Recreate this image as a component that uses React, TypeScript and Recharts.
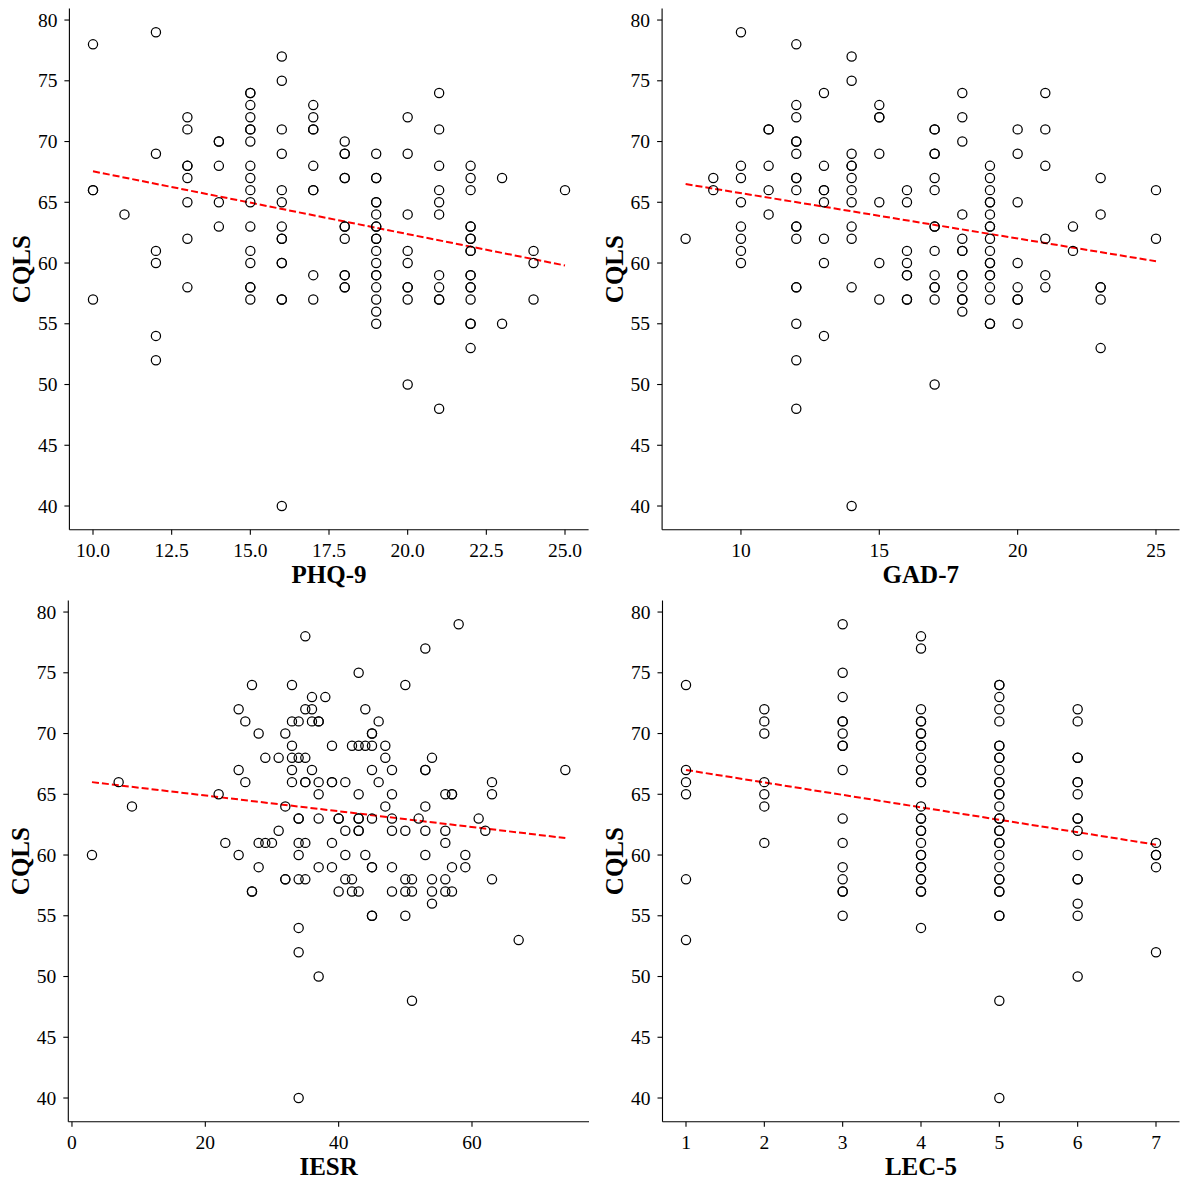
import { ScatterChart, Scatter, XAxis, YAxis, ReferenceLine } from 'recharts';

// CQLS scores against each scale, grouped by x value where the scale is integer
const phq9Columns: [number, number[]][] = [
    [10, [78, 66, 66, 57]],
    [11, [64]],
    [12, [79, 69, 61, 60, 54, 52]],
    [13, [72, 71, 68, 68, 67, 65, 62, 58]],
    [14, [70, 70, 68, 65, 63]],
    [15, [74, 74, 73, 72, 71, 71, 70, 68, 67, 66, 65, 63, 61, 60, 58, 58, 57]],
    [16, [77, 75, 71, 69, 66, 65, 63, 62, 62, 60, 60, 57, 57, 40]],
    [17, [73, 72, 71, 71, 68, 66, 66, 59, 57]],
    [18, [70, 69, 69, 67, 67, 63, 63, 62, 59, 59, 58, 58]],
    [19, [69, 67, 67, 65, 65, 64, 63, 63, 62, 62, 61, 60, 59, 59, 58, 57, 56, 55]],
    [20, [72, 69, 64, 61, 60, 58, 58, 57, 50]],
    [21, [74, 71, 68, 66, 65, 64, 59, 58, 57, 57, 48]],
    [22, [68, 67, 66, 63, 63, 62, 62, 61, 61, 59, 59, 58, 58, 57, 55, 55, 53]],
    [23, [67, 55]],
    [24, [61, 60, 57]],
    [25, [66]],
];

const gad7Columns: [number, number[]][] = [
    [8, [62]],
    [9, [67, 66]],
    [10, [79, 68, 67, 65, 63, 62, 61, 60]],
    [11, [71, 71, 68, 66, 64]],
    [12, [78, 73, 72, 70, 70, 69, 67, 67, 66, 63, 63, 62, 58, 58, 55, 52, 48]],
    [13, [74, 68, 66, 66, 65, 62, 60, 54]],
    [14, [77, 75, 69, 68, 68, 67, 66, 65, 63, 62, 58, 40]],
    [15, [73, 72, 72, 69, 65, 60, 57]],
    [16, [66, 65, 61, 60, 59, 59, 57, 57]],
    [17, [71, 71, 69, 69, 67, 66, 63, 63, 61, 59, 58, 58, 57, 50]],
    [18, [74, 72, 70, 64, 62, 61, 61, 59, 59, 58, 57, 57, 56]],
    [19, [68, 67, 66, 65, 65, 64, 63, 63, 62, 61, 60, 60, 59, 59, 58, 57, 55, 55]],
    [20, [71, 69, 65, 60, 58, 57, 57, 55]],
    [21, [74, 71, 68, 62, 59, 58]],
    [22, [63, 61]],
    [23, [67, 64, 58, 58, 57, 53]],
    [25, [66, 62]],
];

const iesrPairs: [number, number][] = [
    [3, 60], [7, 66], [9, 64], [22, 65], [23, 61], [25, 72], [25, 67], [25, 60], [26, 71], [26, 66],
    [27, 74], [27, 57], [27, 57], [28, 70], [28, 61], [28, 59],
    [35, 78], [53, 77], [43, 75], [33, 74], [50, 74], [36, 73], [38, 73], [35, 72], [36, 72], [44, 72],
    [33, 71], [34, 71], [36, 71], [37, 71], [37, 71], [46, 71], [32, 70], [45, 70], [45, 70],
    [33, 69], [39, 69], [42, 69], [43, 69], [44, 69], [45, 69], [47, 69],
    [29, 68], [31, 68], [33, 68], [34, 68], [35, 68], [47, 68], [54, 68],
    [33, 67], [36, 67], [45, 67], [48, 67], [53, 67], [53, 67],
    [33, 66], [35, 66], [35, 66], [37, 66], [39, 66], [39, 66], [41, 66], [46, 66],
    [37, 65], [43, 65], [48, 65], [32, 64], [47, 64], [53, 64],
    [34, 63], [34, 63], [37, 63], [40, 63], [40, 63], [43, 63], [43, 63], [45, 63], [48, 63], [52, 63],
    [31, 62], [41, 62], [43, 62], [43, 62], [48, 62], [50, 62], [53, 62],
    [29, 61], [30, 61], [34, 61], [35, 61], [39, 61],
    [34, 60], [41, 60], [44, 60], [53, 60],
    [37, 59], [39, 59], [45, 59], [45, 59], [48, 59],
    [32, 58], [32, 58], [34, 58], [35, 58], [41, 58], [42, 58], [50, 58], [51, 58], [54, 58],
    [40, 57], [42, 57], [43, 57], [48, 57], [50, 57], [51, 57], [54, 57],
    [54, 56], [45, 55], [45, 55], [50, 55], [34, 54],
    [58, 79], [74, 67], [63, 66], [56, 65], [57, 65], [57, 65], [63, 65], [61, 63], [56, 62], [62, 62],
    [56, 61], [59, 60], [57, 59], [59, 59], [56, 58], [63, 58], [56, 57], [57, 57], [67, 53],
    [34, 52], [37, 50], [51, 48], [34, 40],
];

const lec5Columns: [number, number[]][] = [
    [1, [74, 67, 66, 65, 58, 53]],
    [2, [72, 71, 70, 66, 65, 64, 61]],
    [3, [79, 75, 73, 71, 71, 70, 69, 69, 67, 63, 61, 59, 58, 57, 57, 55]],
    [4, [78, 77, 72, 71, 71, 70, 70, 69, 69, 68, 67, 67, 66, 66, 64, 63, 63, 62, 62, 61, 60, 60, 59, 59, 58, 58, 57, 57, 54]],
    [5, [74, 74, 73, 72, 71, 69, 69, 68, 68, 67, 66, 66, 65, 65, 64, 63, 63, 62, 62, 61, 61, 60, 59, 58, 58, 57, 57, 55, 55, 48, 40]],
    [6, [72, 71, 68, 68, 66, 66, 65, 63, 63, 62, 60, 58, 58, 56, 55, 50]],
    [7, [61, 60, 60, 59, 52]],
];

// fitted lines at their end points
const phq9Trend = [{ x: 10, y: 67.55 }, { x: 25, y: 59.8 }];
const gad7Trend = [{ x: 8, y: 66.5 }, { x: 25, y: 60.15 }];
const iesrTrend = [{ x: 3, y: 66.0 }, { x: 74, y: 61.4 }];
const lec5Trend = [{ x: 1, y: 67.0 }, { x: 7, y: 60.85 }];

const phq9Ticks = [10, 12.5, 15, 17.5, 20, 22.5, 25];
const gad7Ticks = [10, 15, 20, 25];
const iesrTicks = [0, 20, 40, 60];
const lec5Ticks = [1, 2, 3, 4, 5, 6, 7];
const cqlsTicks = [40, 45, 50, 55, 60, 65, 70, 75, 80];

const fromColumns = (cols: [number, number[]][]) =>
    cols.flatMap(([x, ys]) => ys.map((y) => ({ x, y })));
const fromPairs = (pairs: [number, number][]) => pairs.map(([x, y]) => ({ x, y }));

const FONT = '"Liberation Serif", "Times New Roman", serif';
const TICK_SIZE = 19.5;

const ring = (props: any) => (
    <circle cx={props.cx} cy={props.cy} r={4.6} fill="none" stroke="#000" strokeWidth={1.25} />
);

const makeXTick = (fmt?: (v: number) => string) => (props: any) => {
    const { x, y, payload } = props;
    const v = payload.value as number;
    return (
        <text x={x} y={y} dy="0.71em" textAnchor="middle" fontFamily={FONT} fontSize={TICK_SIZE} fill="#000">
            {fmt ? fmt(v) : String(v)}
        </text>
    );
};

const yTick = (props: any) => {
    const { x, y, payload } = props;
    return (
        <text x={x} y={y} dy="0.34em" textAnchor="end" fontFamily={FONT} fontSize={TICK_SIZE} fill="#000">
            {payload.value}
        </text>
    );
};

interface PanelProps {
    data: Array<{ x: number; y: number }>;
    trend: Array<{ x: number; y: number }>;
    xDomain: [number, number];
    xTicks: number[];
    xFormat?: (v: number) => string;
    xLabel: string;
    left: number;
    top: number;
    width: number;
    height: number;
    plotL: number;
    plotR: number;
    plotT: number;
    plotB: number;
}

const Panel = (p: PanelProps) => {
    const yAxisWidth = p.plotL - p.left;
    const xAxisHeight = p.top + p.height - p.plotB;
    const cx = (p.plotL + p.plotR) / 2 - p.left;
    const cy = (p.plotT + p.plotB) / 2 - p.top;
    return (
        <div style={{ position: 'absolute', left: p.left, top: p.top, width: p.width, height: p.height }}>
            <ScatterChart
                width={p.width}
                height={p.height}
                margin={{ top: p.plotT - p.top, right: p.left + p.width - p.plotR, bottom: 0, left: 0 }}
            >
                <XAxis
                    type="number"
                    dataKey="x"
                    domain={p.xDomain}
                    ticks={p.xTicks}
                    allowDataOverflow
                    height={xAxisHeight}
                    tickSize={5}
                    tickMargin={8}
                    axisLine={{ stroke: '#000', strokeWidth: 1.1 }}
                    tickLine={{ stroke: '#000', strokeWidth: 1.1 }}
                    tick={makeXTick(p.xFormat)}
                />
                <YAxis
                    type="number"
                    dataKey="y"
                    domain={[38.05, 80.95]}
                    ticks={cqlsTicks}
                    allowDataOverflow
                    width={yAxisWidth}
                    tickSize={5}
                    tickMargin={7}
                    axisLine={{ stroke: '#000', strokeWidth: 1.1 }}
                    tickLine={{ stroke: '#000', strokeWidth: 1.1 }}
                    tick={yTick}
                />
                <Scatter data={p.data} shape={ring} isAnimationActive={false} />
                <ReferenceLine
                    segment={p.trend}
                    stroke="#ff0000"
                    strokeWidth={2}
                    strokeDasharray="7 3"
                />
            </ScatterChart>
            <svg
                width={p.width}
                height={p.height}
                style={{ position: 'absolute', left: 0, top: 0, pointerEvents: 'none' }}
            >
                <text
                    x={cx}
                    y={p.plotB - p.top + 53.3}
                    textAnchor="middle"
                    fontFamily={FONT}
                    fontWeight="bold"
                    fontSize={25}
                    fill="#000"
                >
                    {p.xLabel}
                </text>
                <text
                    transform={`translate(${yAxisWidth - 39.4}, ${cy}) rotate(-90)`}
                    textAnchor="middle"
                    fontFamily={FONT}
                    fontWeight="bold"
                    fontSize={25}
                    fill="#000"
                >
                    CQLS
                </text>
            </svg>
        </div>
    );
};

export default function App() {
    return (
        <div style={{ position: 'absolute', left: 0, top: 0, width: 1189, height: 1189, background: '#fff' }}>
            <Panel
                data={fromColumns(phq9Columns)}
                trend={phq9Trend}
                xDomain={[9.25, 25.75]}
                xTicks={phq9Ticks}
                xFormat={(v) => v.toFixed(1)}
                xLabel="PHQ-9"
                left={0}
                top={0}
                width={594}
                height={594}
                plotL={69.4}
                plotR={588.6}
                plotT={8.5}
                plotB={529.7}
            />
            <Panel
                data={fromColumns(gad7Columns)}
                trend={gad7Trend}
                xDomain={[7.15, 25.85]}
                xTicks={gad7Ticks}
                xLabel="GAD-7"
                left={594}
                top={0}
                width={595}
                height={594}
                plotL={662.1}
                plotR={1179.5}
                plotT={8.5}
                plotB={529.7}
            />
            <Panel
                data={fromPairs(iesrPairs)}
                trend={iesrTrend}
                xDomain={[-0.55, 77.55]}
                xTicks={iesrTicks}
                xLabel="IESR"
                left={0}
                top={594}
                width={594}
                height={595}
                plotL={68.3}
                plotR={589}
                plotT={600.5}
                plotB={1121.7}
            />
            <Panel
                data={fromColumns(lec5Columns)}
                trend={lec5Trend}
                xDomain={[0.7, 7.3]}
                xTicks={lec5Ticks}
                xLabel="LEC-5"
                left={594}
                top={594}
                width={595}
                height={595}
                plotL={662.5}
                plotR={1179.5}
                plotT={600.5}
                plotB={1121.7}
            />
        </div>
    );
}
